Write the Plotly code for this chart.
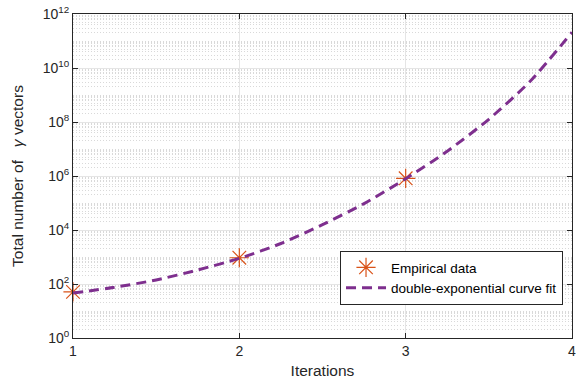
import plotly.graph_objects as go

# Empirical data
iters = [1, 2, 3]
counts = [51, 940, 8.2e5]

# Double-exponential curve fit
fit_x = [1.0, 1.25, 1.5, 1.75, 2.0, 2.25, 2.5, 2.75, 3.0, 3.25, 3.5, 3.75, 4.0]
fit_y = [46, 76, 141, 331, 891, 3162, 1.58e4, 9.5e4, 7.9e5, 8.3e6, 1.26e8, 3.3e9, 2.1e11]

ytick_vals = [1, 1e2, 1e4, 1e6, 1e8, 1e10, 1e12]
ytick_text = ["10<sup>0</sup>", "10<sup>2</sup>", "10<sup>4</sup>", "10<sup>6</sup>",
              "10<sup>8</sup>", "10<sup>10</sup>", "10<sup>12</sup>"]
xtick_vals = [1, 2, 3, 4]

FONT = "Liberation Sans, Arial, Helvetica, sans-serif"

fig = go.Figure()
fig.add_trace(go.Scatter(
    x=iters, y=counts, mode="markers", name="Empirical data",
    marker=dict(symbol="asterisk-open", size=16, color="#D95319",
                line=dict(color="#D95319", width=1.2)),
    cliponaxis=False,
))
fig.add_trace(go.Scatter(
    x=fit_x, y=fit_y, mode="lines", name="double-exponential curve fit",
    line=dict(color="#7E2F8E", width=3, dash="10px,6px", shape="spline", smoothing=0.7),
))

fig.update_layout(
    width=576, height=379,
    margin=dict(l=73, r=4, t=14, b=41, autoexpand=False),
    paper_bgcolor="white", plot_bgcolor="white",
    font=dict(family=FONT, size=14, color="#262626"),
    showlegend=True,
    legend=dict(x=0.982, y=0.2685, xanchor="right", yanchor="top",
                bgcolor="white", bordercolor="#262626", borderwidth=1,
                font=dict(size=13.5, color="black"),
                tracegroupgap=0, itemwidth=40),
    xaxis=dict(
        range=[1, 4], tickvals=xtick_vals, ticktext=[str(v) for v in xtick_vals],
        showgrid=True, gridcolor="#e5e5e5", gridwidth=1,
        showline=True, linecolor="#262626", linewidth=1, mirror="allticks",
        ticks="inside", ticklen=5, tickcolor="#262626",
        ticklabeloverflow="allow",
        zeroline=False, automargin=False,
        title=dict(text="Iterations", font=dict(size=15.5)),
    ),
    yaxis=dict(
        type="log", range=[0, 12],
        tickvals=ytick_vals, ticktext=ytick_text,
        showgrid=True, gridcolor="#e5e5e5", gridwidth=1,
        showline=True, linecolor="#262626", linewidth=1, mirror="allticks",
        ticks="inside", ticklen=5, tickcolor="#262626",
        ticklabeloverflow="allow",
        minor=dict(dtick="D1", showgrid=True, gridcolor="#d9d9d9",
                   griddash="1px,2px", gridwidth=1, ticks=""),
        zeroline=False, automargin=False,
        title=dict(text="Total number of   <i>γ</i> vectors", font=dict(size=15.5)),
    ),
)

fig.write_html(
    "out.html",
    config={"displayModeBar": False},
    post_script="document.body.style.margin='0';document.body.style.overflow='hidden';",
)
